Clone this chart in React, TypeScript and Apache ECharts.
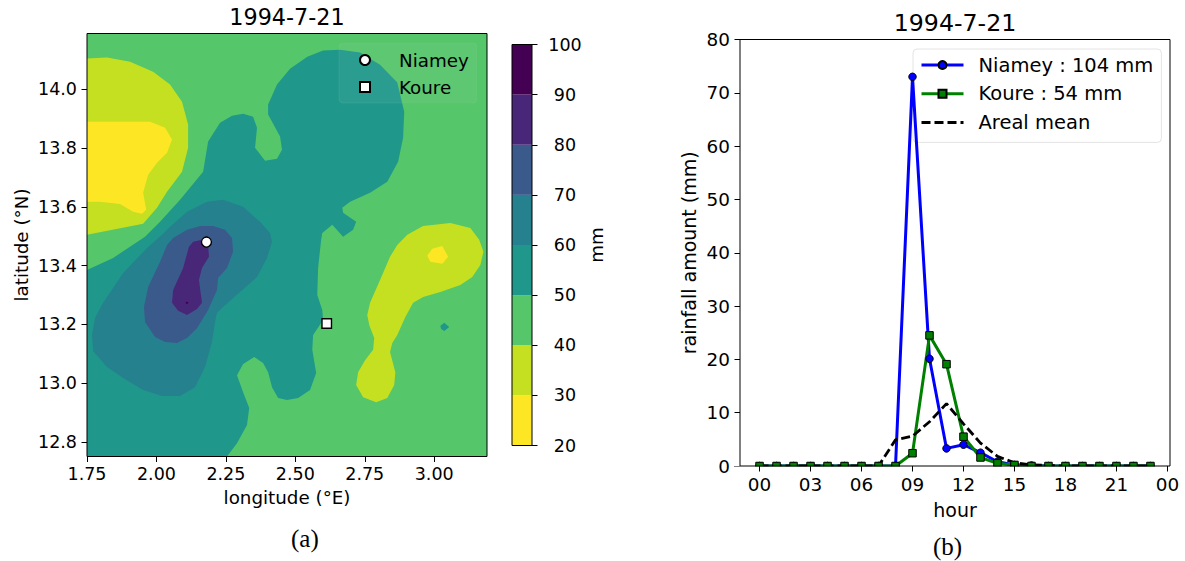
import React, { useEffect, useRef } from "react";
import * as echarts from "echarts";

const title = "1994-7-21";
const levelEdges = [20, 30, 40, 50, 60, 70, 80, 90, 100];
const levelColors = ["#fde725", "#c5e021", "#55c66a", "#1f988b", "#26818e", "#3b5a8c", "#482778", "#440154"];

const fullField = [[1.75, 12.75], [3.19, 12.75], [3.19, 14.19], [1.75, 14.19]];
const band50 = [[1.75,12.75],[1.75,13.385],[1.844,13.426],[1.959,13.498],[2.013,13.549],[2.085,13.624],[2.168,13.719],[2.186,13.822],[2.229,13.886],[2.272,13.910],[2.312,13.917],[2.348,13.907],[2.362,13.869],[2.355,13.801],[2.391,13.757],[2.434,13.764],[2.452,13.794],[2.445,13.839],[2.402,13.914],[2.402,13.948],[2.434,14.016],[2.481,14.070],[2.543,14.111],[2.600,14.132],[2.661,14.135],[2.733,14.125],[2.805,14.084],[2.867,14.023],[2.892,13.924],[2.888,13.835],[2.870,13.753],[2.831,13.685],[2.769,13.648],[2.697,13.617],[2.669,13.597],[2.672,13.580],[2.719,13.549],[2.708,13.522],[2.672,13.498],[2.633,13.539],[2.597,13.511],[2.593,13.488],[2.582,13.392],[2.579,13.300],[2.597,13.249],[2.600,13.215],[2.564,13.164],[2.561,13.113],[2.575,13.034],[2.553,12.976],[2.510,12.949],[2.470,12.942],[2.438,12.949],[2.416,12.986],[2.402,13.037],[2.384,13.068],[2.352,13.089],[2.312,13.065],[2.290,13.027],[2.312,12.969],[2.334,12.915],[2.326,12.857],[2.290,12.795],[2.254,12.75]];
const band50East = [[3.022,13.194],[3.036,13.205],[3.054,13.191],[3.036,13.177],[3.025,13.184]];
const band30West = [[1.75,14.105],[1.822,14.108],[1.905,14.094],[1.988,14.060],[2.049,14.016],[2.092,13.958],[2.114,13.880],[2.114,13.801],[2.092,13.719],[2.038,13.651],[2.002,13.597],[1.952,13.542],[1.75,13.505]];
const band20West = [[1.75,13.890],[1.977,13.890],[2.031,13.869],[2.056,13.829],[2.038,13.784],[2.002,13.750],[1.970,13.709],[1.952,13.648],[1.963,13.590],[1.948,13.576],[1.916,13.583],[1.869,13.610],[1.797,13.617],[1.75,13.617]];
const band30East = [[2.903,13.505],[2.960,13.535],[3.058,13.545],[3.130,13.528],[3.162,13.488],[3.177,13.447],[3.166,13.402],[3.137,13.361],[3.094,13.334],[3.022,13.310],[2.960,13.293],[2.924,13.273],[2.896,13.225],[2.867,13.164],[2.849,13.136],[2.841,13.106],[2.860,13.037],[2.856,12.993],[2.831,12.949],[2.791,12.935],[2.744,12.952],[2.719,12.993],[2.726,13.037],[2.751,13.078],[2.780,13.113],[2.784,13.153],[2.766,13.198],[2.759,13.232],[2.769,13.273],[2.805,13.351],[2.841,13.430],[2.867,13.470]];
const band20East = [[2.975,13.433],[2.993,13.457],[3.029,13.467],[3.050,13.430],[3.029,13.406],[2.986,13.413]];
const band60 = [[2.240,13.624],[2.182,13.617],[2.110,13.583],[2.049,13.532],[2.020,13.505],[1.966,13.460],[1.880,13.375],[1.808,13.273],[1.779,13.222],[1.768,13.164],[1.772,13.109],[1.822,13.055],[1.880,13.017],[1.952,12.976],[2.020,12.956],[2.085,12.956],[2.139,12.986],[2.175,13.055],[2.200,13.140],[2.211,13.208],[2.218,13.239],[2.240,13.259],[2.301,13.310],[2.362,13.361],[2.398,13.426],[2.416,13.481],[2.409,13.511],[2.373,13.549],[2.312,13.600]];
const band70 = [[2.204,13.535],[2.157,13.535],[2.110,13.522],[2.060,13.494],[2.038,13.470],[2.013,13.413],[1.970,13.327],[1.955,13.259],[1.959,13.208],[1.995,13.157],[2.031,13.140],[2.074,13.136],[2.110,13.153],[2.146,13.187],[2.186,13.249],[2.218,13.317],[2.222,13.358],[2.254,13.392],[2.276,13.447],[2.272,13.494],[2.247,13.522]];
const band80 = [[2.132,13.481],[2.164,13.488],[2.186,13.470],[2.189,13.430],[2.164,13.392],[2.153,13.351],[2.164,13.273],[2.146,13.252],[2.110,13.232],[2.078,13.246],[2.056,13.273],[2.060,13.317],[2.096,13.392],[2.117,13.464]];
const band90 = [[2.110,13.278],[2.116,13.273],[2.110,13.268],[2.104,13.273]];

const bandPolygons = [fullField, band30West, band20West, band30East, band20East, band50, band50East, band60, band70, band80, band90];
const bandLevels = [2, 1, 0, 1, 0, 3, 3, 4, 5, 6, 7];

const niamey = [2.18, 13.48];
const koure = [2.613, 13.203];
const lonTicks = [1.75, 2.0, 2.25, 2.5, 2.75, 3.0];
const latTicks = [12.8, 13.0, 13.2, 13.4, 13.6, 13.8, 14.0];

const hours = [0,1,2,3,4,5,6,7,8,9,10,11,12,13,14,15,16,17,18,19,20,21,22,23];
const niameyRain = [0,0,0,0,0,0,0,0,0,73,20.1,3.3,4,2.5,0.8,0.2,0.1,0,0,0,0,0,0,0];
const koureRain = [0,0,0,0,0,0,0,0,0,2.4,24.5,19.1,5.5,1.6,0.5,0.2,0,0,0,0,0,0,0,0];
const arealMean = [0,0,0,0,0,0,0,0,4.9,5.6,8.3,11.7,7.9,4.3,1.8,0.6,0.2,0.1,0,0,0,0,0,0];
const hourTicks = [0,3,6,9,12,15,18,21,24];
const hourLabels = ["00","03","06","09","12","15","18","21","00"];

const FONT = "'DejaVu Sans', sans-serif";
const tickL = { fontFamily: FONT, fontSize: 17.5, color: "#000" };
const tickR = { fontFamily: FONT, fontSize: 18.4, color: "#000" };
const nameL = { fontFamily: FONT, fontSize: 18.3, color: "#000" };
const nameR = { fontFamily: FONT, fontSize: 19, color: "#000" };
const axisTick = { show: true, length: 5.5, lineStyle: { color: "#000", width: 1 } };
const noLine = { show: false, onZero: false };
const squareIcon = "path://M0 0H10V10H0Z";

export default function App() {
  const ref = useRef<HTMLDivElement>(null);
  useEffect(() => {
    const chart = echarts.init(ref.current!, null, { renderer: "svg" });
    chart.setOption({
      animation: false,
      backgroundColor: "#fff",
      title: [
        { text: title, left: 282, top: 1, textAlign: "center", textStyle: { fontFamily: FONT, fontSize: 22.3, fontWeight: "normal", color: "#000" } },
        { text: title, left: 950, top: 6, textAlign: "center", textStyle: { fontFamily: FONT, fontSize: 23.7, fontWeight: "normal", color: "#000" } },
      ],
      grid: [
        { left: 87, top: 33.5, width: 400, height: 423, show: true, z: 5, backgroundColor: "transparent", borderColor: "#000", borderWidth: 1 },
        { left: 740, top: 39.5, width: 430, height: 426.5, show: true, z: 5, backgroundColor: "transparent", borderColor: "#000", borderWidth: 1 },
        { left: 512, top: 44.5, width: 20, height: 401, show: true, z: 5, backgroundColor: "transparent", borderColor: "#000", borderWidth: 1 },
      ],
      xAxis: [
        { type: "value", gridIndex: 0, min: 1.75, max: 3.19, splitLine: { show: false }, axisLine: noLine,
          axisTick: { ...axisTick, customValues: lonTicks },
          axisLabel: { ...tickL, margin: 8, customValues: lonTicks, formatter: (v: number) => v.toFixed(2) },
          name: "longitude (°E)", nameLocation: "middle", nameGap: 32, nameTextStyle: nameL },
        { type: "value", gridIndex: 1, z: 6, min: -1.15, max: 24.15, splitLine: { show: false }, axisLine: noLine,
          axisTick: { ...axisTick, customValues: hourTicks },
          axisLabel: { ...tickR, margin: 9, customValues: hourTicks, formatter: (v: number) => hourLabels[hourTicks.indexOf(v)] },
          name: "hour", nameLocation: "middle", nameGap: 34, nameTextStyle: nameR },
        { type: "value", gridIndex: 2, min: 0, max: 1, show: false },
      ],
      yAxis: [
        { type: "value", gridIndex: 0, min: 12.75, max: 14.19, splitLine: { show: false }, axisLine: noLine,
          axisTick: { ...axisTick, customValues: latTicks },
          axisLabel: { ...tickL, margin: 10, customValues: latTicks, formatter: (v: number) => v.toFixed(1) },
          name: "latitude (°N)", nameLocation: "middle", nameGap: 57, nameTextStyle: nameL },
        { type: "value", gridIndex: 1, min: 0, max: 80, interval: 10, splitLine: { show: false }, axisLine: noLine,
          axisTick,
          axisLabel: { ...tickR, margin: 10 },
          name: "rainfall amount (mm)", nameLocation: "middle", nameGap: 42, nameTextStyle: nameR },
        { type: "value", gridIndex: 2, min: 20, max: 100, interval: 10, position: "right", splitLine: { show: false }, axisLine: noLine,
          axisTick,
          axisLabel: { ...tickL, align: "center", margin: 33 },
          name: "mm", nameLocation: "middle", nameGap: 55, nameRotate: 90, nameTextStyle: nameL },
      ],
      legend: [
        { data: ["Niamey", { name: "Koure", icon: squareIcon }], left: 339, top: 43, orient: "vertical", itemWidth: 42, itemHeight: 10, itemGap: 7, selectedMode: false, symbolKeepAspect: true, z: 4,
          padding: [7, 8, 6, 20], backgroundColor: "rgba(255,255,255,0.05)", borderColor: "rgba(204,204,204,0.1)", borderWidth: 1, borderRadius: 4,
          textStyle: { ...tickL, fontSize: 18.3, padding: [0, 0, 0, 8], lineHeight: 20 } },
        { data: ["Niamey : 104 mm", "Koure : 54 mm", { name: "Areal mean", itemStyle: { color: "rgba(0,0,0,0)", borderColor: "rgba(0,0,0,0)" } }], left: 913, top: 49, orient: "vertical", itemWidth: 42, itemHeight: 10, itemGap: 8.7, selectedMode: false, z: 2,
          lineStyle: { width: 3 },
          padding: [6, 8, 10, 7], backgroundColor: "rgba(255,255,255,0.85)", borderColor: "#e4e4e4", borderWidth: 1, borderRadius: 4,
          textStyle: { ...tickR, fontSize: 19.5, padding: [0, 0, 0, 10], lineHeight: 20 } },
      ],
      series: [
        { type: "custom", xAxisIndex: 0, yAxisIndex: 0, z: 2, silent: true, clip: true,
          data: bandLevels.map((l) => [l]),
          renderItem: (params: any, api: any) => ({
            type: "polygon",
            shape: { points: bandPolygons[params.dataIndex].map((p) => api.coord(p)) },
            style: { fill: levelColors[bandLevels[params.dataIndex]], stroke: "none" },
          }) },
        { type: "scatter", name: "Niamey", xAxisIndex: 0, yAxisIndex: 0, z: 3, data: [niamey], symbol: "circle", symbolSize: 10,
          itemStyle: { color: "#fff", borderColor: "#000", borderWidth: 1.4, opacity: 1 } },
        { type: "scatter", name: "Koure", xAxisIndex: 0, yAxisIndex: 0, z: 3, data: [koure], symbol: "rect", symbolSize: 9.5,
          itemStyle: { color: "#fff", borderColor: "#000", borderWidth: 1.4, opacity: 1 } },
        { type: "line", name: "Niamey : 104 mm", xAxisIndex: 1, yAxisIndex: 1, z: 3, clip: false,
          data: hours.map((h, i) => [h, niameyRain[i]]), symbol: "circle", symbolSize: 7.5, showSymbol: true,
          lineStyle: { color: "#0000ff", width: 3 }, itemStyle: { color: "#0000ff", borderColor: "#000", borderWidth: 1, opacity: 1 } },
        { type: "line", name: "Koure : 54 mm", xAxisIndex: 1, yAxisIndex: 1, z: 3, clip: false,
          data: hours.map((h, i) => [h, koureRain[i]]), symbol: "rect", symbolSize: 7.5, showSymbol: true,
          lineStyle: { color: "#008000", width: 3 }, itemStyle: { color: "#008000", borderColor: "#000", borderWidth: 1, opacity: 1 } },
        { type: "line", name: "Areal mean", xAxisIndex: 1, yAxisIndex: 1, z: 3, clip: false,
          data: hours.map((h, i) => [h, arealMean[i]]), symbol: "none",
          lineStyle: { color: "#000", width: 2.8, type: [9, 4] }, itemStyle: { color: "#000" } },
        { type: "custom", xAxisIndex: 2, yAxisIndex: 2, z: 2, silent: true,
          data: levelColors.map((_, i) => [i]),
          renderItem: (params: any, api: any) => {
            const a = api.coord([0, levelEdges[params.dataIndex]]);
            const b = api.coord([1, levelEdges[params.dataIndex + 1]]);
            return { type: "rect", shape: { x: a[0], y: b[1], width: b[0] - a[0], height: a[1] - b[1] }, style: { fill: levelColors[params.dataIndex] } };
          } },
      ],
      graphic: [
        { type: "rect", z: 4, silent: true, shape: { x: 735, y: 466.5, width: 440, height: 6 }, style: { fill: "#fff" } },
        { type: "text", left: 291, top: 526, style: { text: "(a)", font: "25px 'Liberation Serif', serif", fill: "#000" } },
        { type: "text", left: 933, top: 534, style: { text: "(b)", font: "25px 'Liberation Serif', serif", fill: "#000" } },
      ],
    });
    return () => chart.dispose();
  }, []);
  return <div ref={ref} style={{ position: "fixed", left: 0, top: 0, width: 1185, height: 561 }} />;
}
